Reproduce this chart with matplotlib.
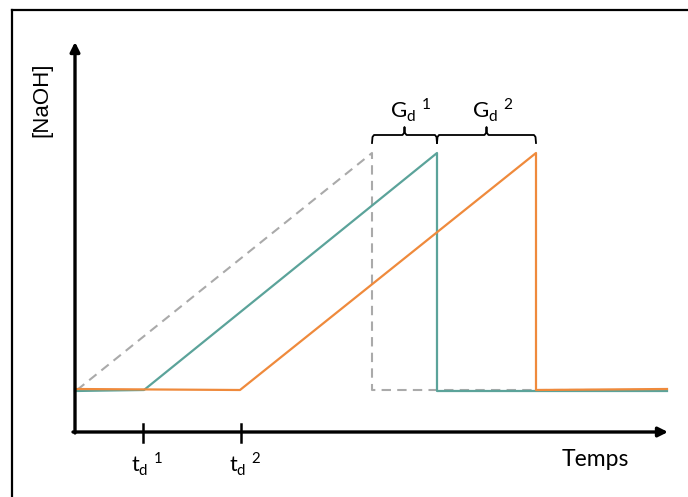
import matplotlib
matplotlib.use("Agg")
import matplotlib.pyplot as plt
from matplotlib.lines import Line2D

plt.rcParams['font.family'] = ['Lato', 'DejaVu Sans']
plt.rcParams['mathtext.fontset'] = 'custom'
plt.rcParams['mathtext.rm'] = 'Lato'

# ---- data (arbitrary schematic units) ----
t_grey = [2, 297, 297, 592]
c_grey = [42, 279, 42, 42]
t_teal = [0, 69, 362, 362, 592]
c_teal = [41, 42, 279, 41, 41]
t_orange = [0, 165, 461, 461, 592]
c_orange = [43, 42, 279, 42, 43]
td_ticks = [68, 166]
td_labels = ["t$_\\mathregular{d}$ $^\\mathregular{1}$", "t$_\\mathregular{d}$ $^\\mathregular{2}$"]
gd_spans = [(297, 362), (362, 461)]
gd_labels = ["G$_\\mathregular{d}$ $^\\mathregular{1}$", "G$_\\mathregular{d}$ $^\\mathregular{2}$"]

W, H = 688, 497
fig = plt.figure(figsize=(W / 100, H / 100), dpi=100)
ax = fig.add_axes([75 / W, (H - 432) / H, 593 / W, 390 / H])
ax.set_xlim(0, 593)
ax.set_ylim(0, 390)
ax.axis('off')

teal = '#5BA39A'
orange = '#EF8A3C'
grey = '#AAAAAA'

ax.plot(t_grey, c_grey, color=grey, lw=1.5, dashes=(4.5, 3), clip_on=False)
ax.plot(t_teal, c_teal, color=teal, lw=1.6, clip_on=False)
ax.plot(t_orange, c_orange, color=orange, lw=1.6, clip_on=False)

# axes arrows
arrow_kw = dict(arrowstyle='-|>', lw=2.4, color='black', mutation_scale=14,
                shrinkA=0, shrinkB=0)
ax.annotate('', xy=(593, 0), xytext=(-2, 0), arrowprops=arrow_kw, annotation_clip=False)
ax.annotate('', xy=(0, 390), xytext=(0, -1), arrowprops=arrow_kw, annotation_clip=False)

# ticks
for x, lab in zip(td_ticks, td_labels):
    ax.plot([x, x], [-10, 8], color='black', lw=1.8, clip_on=False)
    ax.text(x + 4, -32, lab, ha='center', va='center', fontsize=15.5)

# braces
yb = 289
for (x0, x1), lab in zip(gd_spans, gd_labels):
    xc = (x0 + x1) / 2
    xs = [x0, x0 + 0.5, x0 + 2, xc - 2, xc - 0.5, xc, xc + 0.5, xc + 2, x1 - 2, x1 - 0.5, x1]
    ys = [yb, yb + 6, yb + 8, yb + 8, yb + 10, yb + 16, yb + 10, yb + 8, yb + 8, yb + 6, yb]
    ax.plot(xs, ys, color='black', lw=1.3, clip_on=False)
    ax.text(xc + 6, yb + 33, lab, ha='center', va='center', fontsize=16)

ax.text(520, -27, 'Temps', ha='center', va='center', fontsize=16.5)
ax.text(-33, 332, '[NaOH]', ha='center', va='center', rotation=90, fontsize=16,
        family=['Liberation Sans', 'DejaVu Sans'])

# frame (left and top edges visible)
fig.add_artist(Line2D([12 / W, 12 / W], [0, 1 - 10 / H], transform=fig.transFigure,
                      color='black', lw=1.6))
fig.add_artist(Line2D([12 / W, 1], [1 - 10 / H, 1 - 10 / H], transform=fig.transFigure,
                      color='black', lw=1.6))

fig.savefig('out.png', dpi=100)
